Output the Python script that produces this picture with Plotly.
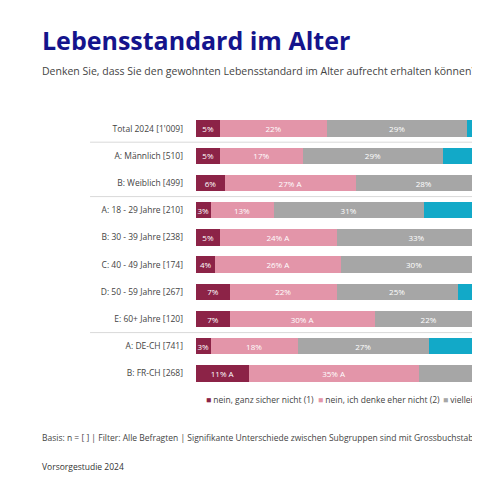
import plotly.graph_objects as go

categories = ["Total 2024 [1'009]", "A: Männlich [510]", "B: Weiblich [499]", "A: 18 - 29 Jahre [210]",
              "B: 30 - 39 Jahre [238]", "C: 40 - 49 Jahre [174]", "D: 50 - 59 Jahre [267]",
              "E: 60+ Jahre [120]", "A: DE-CH [741]", "B: FR-CH [268]"]
nein1 = [5, 5, 6, 3, 5, 4, 7, 7, 3, 11]
nein1_txt = ["5%", "5%", "6%", "3%", "5%", "4%", "7%", "7%", "3%", "11% A"]
nein2 = [22, 17, 27, 13, 24, 26, 22, 30, 18, 35]
nein2_txt = ["22%", "17%", "27% A", "13%", "24% A", "26% A", "22%", "30% A", "18%", "35% A"]
viell = [29, 29, 28, 31, 33, 30, 25, 22, 27, 29]
viell_txt = ["29%", "29%", "28%", "31%", "33%", "30%", "25%", "22%", "27%", "29%"]
ja4 = [34, 38, 31, 40, 31, 32, 36, 33, 40, 20]
ja5 = [10, 11, 8, 13, 7, 8, 10, 8, 12, 5]
series_names = ["nein, ganz sicher nicht (1)", "nein, ich denke eher nicht (2)", "vielleicht (3)",
                "ja, ich denke schon (4)", "ja, ganz sicher (5)"]
colors = ["#8c2347", "#e395a9", "#a6a6a6", "#12a9c8", "#1b2f7a"]

fig = go.Figure()
for vals, txt, name, c in zip([nein1, nein2, viell, ja4, ja5],
                              [nein1_txt, nein2_txt, viell_txt, [f"{v}%" for v in ja4], [f"{v}%" for v in ja5]],
                              series_names, colors):
    fig.add_trace(go.Bar(y=categories, x=vals, name=name, orientation="h", marker_color=c,
                         marker_line_width=0, text=txt, textposition="inside", insidetextanchor="middle",
                         textfont=dict(color="white", size=8), textangle=0, showlegend=False))

fig.update_layout(barmode="stack", bargap=0.4, width=480, height=480,
                  margin=dict(l=188, r=8, t=107, b=101), plot_bgcolor="white", paper_bgcolor="white",
                  font=dict(family="Open Sans", color="#333"),
                  uniformtext=dict(minsize=8, mode="show"))
fig.update_xaxes(range=[0, 58.6], showgrid=False, showticklabels=False, zeroline=False)
fig.update_yaxes(autorange="reversed", tickfont=dict(size=8.5, color="#444"), ticks="", ticklabelstandoff=12)

for yy in [0.5, 2.5, 7.5]:
    fig.add_shape(type="line", xref="paper", yref="y", x0=-0.373, x1=1.5, y0=yy, y1=yy,
                  line=dict(color="#d9d9d9", width=1))

def px(x):
    return (x - 196) / 284
def py(y):
    return (387 - y) / 272

fig.add_annotation(text="<b>Lebensstandard im Alter</b>", x=px(40), y=py(40), xref="paper", yref="paper",
                   xanchor="left", yanchor="middle", showarrow=False, font=dict(size=25, color="#14148c"))
fig.add_annotation(text="Denken Sie, dass Sie den gewohnten Lebensstandard im Alter aufrecht erhalten können?",
                   x=px(40), y=py(71), xref="paper", yref="paper", xanchor="left", yanchor="middle",
                   showarrow=False, font=dict(size=10.5, color="#444"))
for xpos, name, c in zip([204, 316, 441], series_names[:3], colors[:3]):
    fig.add_annotation(text=f"<span style='color:{c}'>■</span> {name}", x=px(xpos), y=py(399),
                       xref="paper", yref="paper", xanchor="left", yanchor="middle", showarrow=False,
                       font=dict(size=8.5, color="#444"))
fig.add_annotation(text="Basis: n = [ ] | Filter: Alle Befragten | Signifikante Unterschiede zwischen Subgruppen sind mit Grossbuchstaben gekennzeichnet",
                   x=px(40), y=py(437), xref="paper", yref="paper", xanchor="left", yanchor="middle",
                   showarrow=False, font=dict(size=8.5, color="#444"))
fig.add_annotation(text="Vorsorgestudie 2024", x=px(40), y=py(466), xref="paper", yref="paper",
                   xanchor="left", yanchor="middle", showarrow=False, font=dict(size=8.5, color="#333"))

fig.write_html("out.html")
